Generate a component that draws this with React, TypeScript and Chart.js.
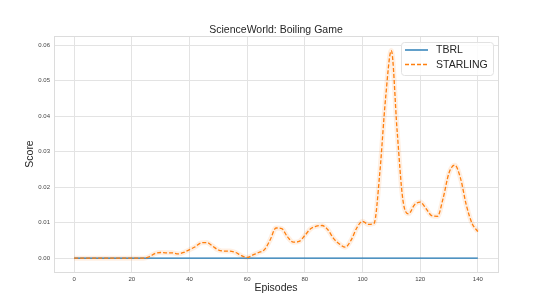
import React, { useEffect, useRef } from "react";
import { Chart, registerables } from "chart.js";

Chart.register(...registerables);

const episodes = [
  0, 2, 4, 6, 8, 10, 12, 14, 16, 18, 20, 22, 24, 26, 28, 30, 32, 34, 36, 38,
  40, 42, 44, 46, 48, 50, 52, 54, 56, 58, 60, 62, 64, 66, 68, 70, 72, 74, 76, 78,
  80, 82, 84, 86, 88, 90, 92, 94, 96, 98, 100, 102, 104, 106, 108, 110, 112, 114, 116, 118,
  120, 122, 124, 126, 128, 130, 132, 134, 136, 138, 140,
];

const starlingScores = [
  0, 0, 0, 0, 0, 0, 0, 0, 0, 0, 0, 0, 0, 0.0004, 0.0013, 0.0016, 0.0015, 0.0015, 0.0012, 0.0016,
  0.0024, 0.0032, 0.0043, 0.0044, 0.0034, 0.0023, 0.002, 0.002, 0.0016, 0.0007, 0.0002, 0.0009, 0.0016, 0.0024, 0.0052, 0.0085, 0.0083, 0.006, 0.0045, 0.0047,
  0.0064, 0.0083, 0.009, 0.0092, 0.008, 0.0055, 0.004, 0.0031, 0.005, 0.0085, 0.0104, 0.0095, 0.0098, 0.024, 0.045, 0.0585, 0.036, 0.0165, 0.0125, 0.015,
  0.0158, 0.014, 0.012, 0.0118, 0.017, 0.024, 0.0262, 0.0225, 0.015, 0.0098, 0.0075,
];

const tbrlEpisodes = [0, 140];
const tbrlScores = [0, 0];

const xTicks = [0, 20, 40, 60, 80, 100, 120, 140];
const yTicks = [0, 0.01, 0.02, 0.03, 0.04, 0.05, 0.06];

const seriesNames = ["TBRL", "STARLING"];
const titleText = "ScienceWorld: Boiling Game";
const xLabel = "Episodes";
const yLabel = "Score";

const BLUE = "#1f77b4";
const ORANGE = "#ff7f0e";
const FONT = "'Liberation Sans', Arial, sans-serif";
const TEXT = "#262626";
const GRID = "#e3e3e3";

const framePlugin = {
  id: "frame",
  beforeDatasetsDraw(chart: any) {
    const { ctx, chartArea } = chart;
    ctx.save();
    ctx.strokeStyle = "#dcdcdc";
    ctx.lineWidth = 1;
    ctx.strokeRect(
      Math.round(chartArea.left) + 0.5,
      Math.round(chartArea.top) + 0.5,
      Math.round(chartArea.right - chartArea.left),
      Math.round(chartArea.bottom - chartArea.top)
    );
    ctx.restore();
  },
};

const titlePlugin = {
  id: "centeredTitle",
  afterDraw(chart: any) {
    const { ctx, chartArea } = chart;
    ctx.save();
    ctx.fillStyle = TEXT;
    ctx.font = `10.5px ${FONT}`;
    ctx.textAlign = "center";
    ctx.textBaseline = "middle";
    ctx.fillText(titleText, (chartArea.left + chartArea.right) / 2, 29.8);
    ctx.restore();
  },
};

const legendPlugin = {
  id: "customLegend",
  afterDraw(chart: any) {
    const { ctx } = chart;
    const x = 401;
    const y = 42;
    const w = 92;
    const h = 33;
    ctx.save();
    ctx.beginPath();
    ctx.roundRect(x + 0.5, y + 0.5, w, h, 3);
    ctx.fillStyle = "rgba(255,255,255,0.85)";
    ctx.fill();
    ctx.strokeStyle = "#e2e2e2";
    ctx.lineWidth = 1;
    ctx.stroke();
    const rows = [
      { name: seriesNames[0], color: BLUE, dash: [] as number[], yy: 50 },
      { name: seriesNames[1], color: ORANGE, dash: [4, 2], yy: 64.5 },
    ];
    rows.forEach((r) => {
      ctx.beginPath();
      ctx.setLineDash(r.dash);
      ctx.strokeStyle = r.color;
      ctx.lineWidth = 1.4;
      ctx.moveTo(405, r.yy);
      ctx.lineTo(428, r.yy);
      ctx.stroke();
      ctx.setLineDash([]);
      ctx.fillStyle = TEXT;
      ctx.font = `10.5px ${FONT}`;
      ctx.textBaseline = "middle";
      ctx.textAlign = "left";
      ctx.fillText(r.name, 436, r.yy + 0.5);
    });
    ctx.restore();
  },
};

export default function App() {
  const ref = useRef<HTMLCanvasElement | null>(null);

  useEffect(() => {
    if (!ref.current) return;
    const starlingPts = episodes.map((e, i) => ({ x: e, y: starlingScores[i] }));
    const tbrlPts = tbrlEpisodes.map((e, i) => ({ x: e, y: tbrlScores[i] }));
    const chart = new Chart(ref.current, {
      type: "line",
      data: {
        datasets: [
          {
            label: seriesNames[1],
            data: starlingPts,
            borderColor: ORANGE,
            borderWidth: 1.3,
            borderDash: [4, 2],
            pointRadius: 0,
            cubicInterpolationMode: "monotone",
            fill: false,
            order: 0,
          },
          {
            label: seriesNames[0],
            data: tbrlPts,
            borderColor: BLUE,
            borderWidth: 1.3,
            pointRadius: 0,
            fill: false,
            order: 1,
          },
          {
            label: "band",
            data: starlingPts,
            borderColor: "rgba(255,127,14,0.12)",
            borderWidth: 5,
            pointRadius: 0,
            cubicInterpolationMode: "monotone",
            fill: false,
            order: 2,
          },
        ],
      },
      options: {
        responsive: false,
        animation: false,
        layout: { padding: { left: 0, right: 40, top: 36, bottom: 0 } },
        plugins: {
          legend: { display: false },
          tooltip: { enabled: false },
          title: { display: false },
        },
        scales: {
          x: {
            type: "linear",
            min: -7,
            max: 147,
            afterFit: (s: any) => {
              s.height = 34;
            },
            afterBuildTicks: (s: any) => {
              s.ticks = xTicks.map((v) => ({ value: v }));
            },
            grid: { color: GRID, drawTicks: false, lineWidth: 1 },
            border: { display: false },
            ticks: {
              color: "#444",
              font: { family: FONT, size: 6 },
              padding: 3.5,
              maxRotation: 0,
              callback: (v: any) => String(v),
            },
            title: {
              display: true,
              text: xLabel,
              color: TEXT,
              font: { family: FONT, size: 10.5 },
              padding: { top: 0, bottom: 11.7 },
            },
          },
          y: {
            type: "linear",
            min: -0.0039,
            max: 0.0626,
            afterFit: (s: any) => {
              s.width = 54;
            },
            afterBuildTicks: (s: any) => {
              s.ticks = yTicks.map((v) => ({ value: v }));
            },
            grid: { color: GRID, drawTicks: false, lineWidth: 1 },
            border: { display: false },
            ticks: {
              color: "#444",
              font: { family: FONT, size: 6 },
              padding: 4,
              callback: (v: any) => Number(v).toFixed(2),
            },
            title: {
              display: true,
              text: yLabel,
              color: TEXT,
              font: { family: FONT, size: 10.5 },
              padding: { top: 23.7, bottom: 0 },
            },
          },
        },
      },
      plugins: [framePlugin, titlePlugin, legendPlugin],
    });
    return () => chart.destroy();
  }, []);

  return (
    <div style={{ position: "fixed", left: 0, top: 0, width: 538, height: 306, background: "#fff" }}>
      <canvas ref={ref} width={538} height={306} style={{ width: 538, height: 306 }} />
    </div>
  );
}
